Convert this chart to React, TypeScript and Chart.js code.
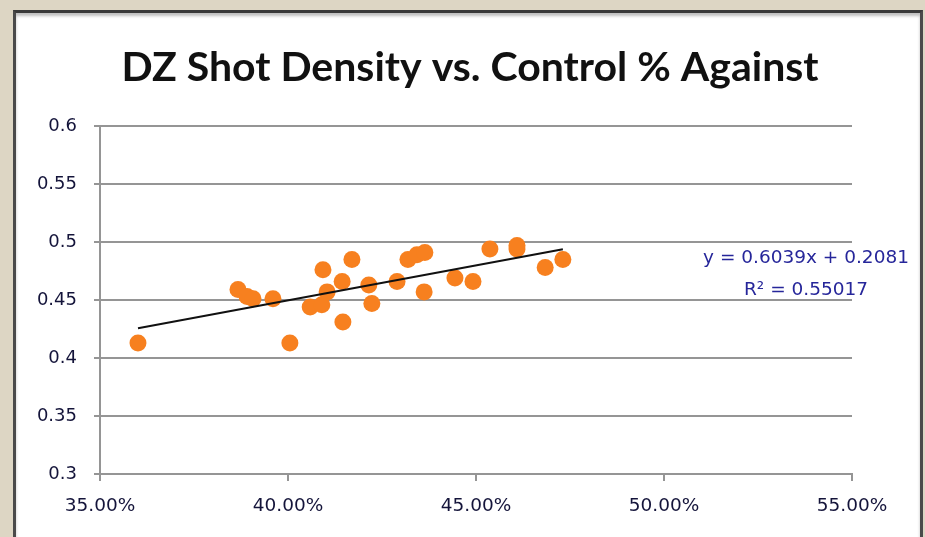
import React, { useEffect, useRef } from "react";
import { Chart, registerables } from "chart.js";

Chart.register(...registerables);

const TITLE = "DZ Shot Density vs. Control % Against";

// Control % Against (x, fraction) and DZ Shot Density (y)
const controlPctAgainst = [
  0.3601, 0.3867, 0.3891, 0.3907, 0.396, 0.4005, 0.4059, 0.409, 0.4093,
  0.4104, 0.4144, 0.4146, 0.417, 0.4215, 0.4223, 0.429, 0.4319, 0.4343,
  0.4364, 0.4362, 0.4444, 0.4492, 0.4537, 0.4609, 0.4609, 0.4684, 0.4731,
];
const dzShotDensity = [
  0.413, 0.459, 0.453, 0.451, 0.451, 0.413, 0.444, 0.446, 0.476,
  0.457, 0.466, 0.431, 0.485, 0.463, 0.447, 0.466, 0.485, 0.489,
  0.491, 0.457, 0.469, 0.466, 0.494, 0.494, 0.497, 0.478, 0.485,
];

const trendSlope = 0.6039;
const trendIntercept = 0.2081;
const equationLines = ["y = 0.6039x + 0.2081", "R² = 0.55017"];

const xTicks = [0.35, 0.4, 0.45, 0.5, 0.55];
const yTicks = [0.3, 0.35, 0.4, 0.45, 0.5, 0.55, 0.6];

const TICK_FONT = '"DejaVu Sans", sans-serif';

export default function App() {
  const ref = useRef<HTMLCanvasElement | null>(null);

  useEffect(() => {
    if (!ref.current) return;
    const points = controlPctAgainst.map((x, i) => ({ x, y: dzShotDensity[i] }));
    const xMin = Math.min(...controlPctAgainst);
    const xMax = Math.max(...controlPctAgainst);
    const trend = [
      { x: xMin, y: trendSlope * xMin + trendIntercept },
      { x: xMax, y: trendSlope * xMax + trendIntercept },
    ];

    const overlay = {
      id: "overlay",
      afterDraw(chart: any) {
        const ctx = chart.ctx;
        ctx.save();
        ctx.fillStyle = "#111";
        ctx.font = 'bold 41px Lato, sans-serif';
        ctx.textAlign = "center";
        ctx.textBaseline = "alphabetic";
        ctx.fillText(TITLE, 470, 81);

        ctx.fillStyle = "#26269a";
        ctx.font = '18.5px "DejaVu Sans", sans-serif';
        ctx.textAlign = "center";
        ctx.fillText(equationLines[0], 806, 263);
        ctx.fillText(equationLines[1], 806, 295);
        ctx.restore();
      },
    };

    const chart = new Chart(ref.current, {
      type: "scatter",
      data: {
        datasets: [
          {
            type: "line",
            data: trend,
            borderColor: "#111",
            borderWidth: 2,
            pointRadius: 0,
            fill: false,
            order: 0,
          } as any,
          {
            data: points,
            backgroundColor: "#F7801F",
            borderWidth: 0,
            pointRadius: 8.5,
            order: 1,
          },
        ],
      },
      plugins: [overlay],
      options: {
        animation: false,
        responsive: false,
        events: [],
        layout: { padding: { left: 0, right: 73, top: 126, bottom: 0 } },
        plugins: {
          legend: { display: false },
          title: { display: false },
          tooltip: { enabled: false },
        },
        scales: {
          x: {
            type: "linear",
            min: 0.35,
            max: 0.55,
            afterBuildTicks: (s: any) => {
              s.ticks = xTicks.map((v) => ({ value: v }));
            },
            afterFit: (s: any) => {
              s.height = 63;
            },
            grid: {
              drawOnChartArea: false,
              drawTicks: true,
              tickLength: 7,
              color: "#959595",
              lineWidth: 2,
            },
            border: { display: true, color: "#959595", width: 2 },
            ticks: {
              color: "#14143a",
              font: { family: TICK_FONT, size: 18.5 },
              padding: 14,
              maxRotation: 0,
              callback: (v: any) => (Number(v) * 100).toFixed(2) + "%",
            },
          },
          y: {
            type: "linear",
            min: 0.3,
            max: 0.6,
            afterBuildTicks: (s: any) => {
              s.ticks = yTicks.map((v) => ({ value: v }));
            },
            afterFit: (s: any) => {
              s.width = 100;
            },
            grid: {
              drawTicks: true,
              tickLength: 6,
              color: "#959595",
              lineWidth: 2,
            },
            border: { display: true, color: "#959595", width: 2 },
            ticks: {
              color: "#14143a",
              font: { family: TICK_FONT, size: 18 },
              padding: 17,
              callback: (v: any) => String(Math.round(Number(v) * 100) / 100),
            },
          },
        },
      },
    });
    return () => chart.destroy();
  }, []);

  return (
    <div
      style={{
        position: "fixed",
        left: 0,
        top: 0,
        width: 925,
        height: 537,
        background: "#ddd6c4",
        overflow: "hidden",
      }}
    >
      <div
        style={{
          position: "absolute",
          left: 13,
          top: 10,
          width: 910,
          height: 540,
          background: "#fff",
          border: "3px solid #4a4a4a",
          borderTopColor: "#3a3a3a",
          boxShadow: "inset 0 3px 3px rgba(0,0,0,0.25)",
          boxSizing: "border-box",
        }}
      />
      <canvas
        ref={ref}
        width={925}
        height={537}
        style={{ position: "absolute", left: 0, top: 0, width: 925, height: 537 }}
      />
    </div>
  );
}
